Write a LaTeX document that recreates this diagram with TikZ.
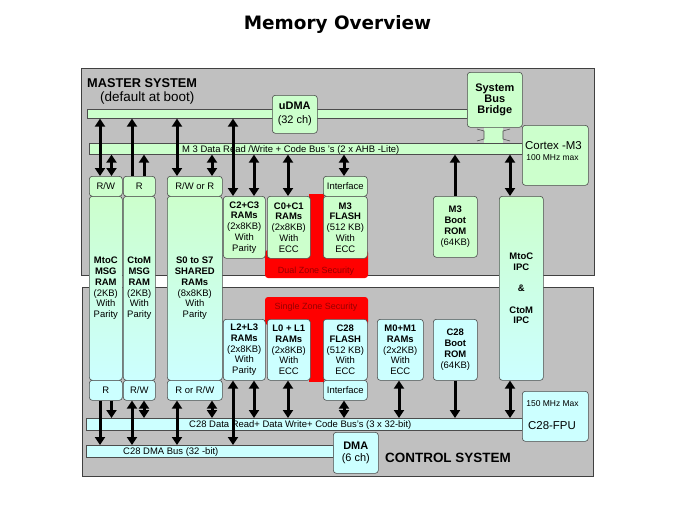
\documentclass[tikz,border=0pt]{standalone}
\usepackage{fontspec}
\setmainfont{Liberation Sans}
\newfontfamily\titlefont{DejaVu Sans}
\usepackage{tikz}
\usetikzlibrary{arrows.meta}
\definecolor{msgreen}{RGB}{204,255,204}
\definecolor{cscyan}{RGB}{204,255,255}
\definecolor{sysgray}{RGB}{192,192,192}
\definecolor{zonered}{RGB}{255,0,0}
\definecolor{zonetext}{RGB}{150,0,0}

\begin{document}
\begin{tikzpicture}[
  sysbox/.style={draw=black!75,line width=0.8bp,fill=sysgray,inner sep=0pt,anchor=north west},
  busbar/.style={draw=black!70,line width=0.6bp,inner sep=0pt,anchor=north west},
  blk/.style={draw=black!70,line width=0.6bp,rounded corners=3bp,inner sep=0pt,anchor=north west,align=center,font=\fontsize{9.5}{10.8}\selectfont},
  msys/.style={fill=msgreen},
  csys/.style={fill=cscyan},
  both/.style={top color=msgreen,bottom color=cscyan},
  tag/.style={inner sep=0pt,anchor=base},
  twoway/.style={line width=3bp,{Triangle[width=10bp,length=8bp]}-{Triangle[width=10bp,length=8bp]}},
  oneway/.style={line width=3bp,-{Triangle[width=10bp,length=8bp]}}
]
\useasboundingbox (0,0) rectangle (674bp,-506bp);
\node (title) at (337.5bp,-29bp)[tag,font=\titlefont\bfseries\fontsize{18.5}{20}\selectfont] {Memory Overview};

% the two systems
\node (master) at (81bp,-68bp)[sysbox,minimum width=513bp,minimum height=207bp] {};
\node (control) at (82bp,-287bp)[sysbox,minimum width=511bp,minimum height=189bp] {};

% security zones
\fill[zonered,rounded corners=3bp] (265bp,-250bp) rectangle (368bp,-278bp);
\fill[zonered] (309bp,-194bp) rectangle (324bp,-262bp);
\fill[zonered,rounded corners=3bp] (265bp,-297bp) rectangle (368bp,-325bp);
\fill[zonered] (309bp,-315bp) rectangle (324bp,-382bp);

% bridge to M3 bus
\fill[msgreen] (484bp,-127bp) rectangle (503bp,-143bp);
\draw[black!70,line width=0.6bp] (477bp,-129bp) -- (484bp,-131bp) -- (484bp,-139bp) -- (477bp,-141bp);
\draw[black!70,line width=0.6bp] (510bp,-129bp) -- (503bp,-131bp) -- (503bp,-139bp) -- (510bp,-141bp);

% buses
\node (udmabus) at (87bp,-109bp)[busbar,msys,minimum width=380bp,minimum height=9bp] {};
\node (m3bus) at (89bp,-143bp)[busbar,msys,minimum width=433bp,minimum height=11bp] {};
\node (c28bus) at (86bp,-418bp)[busbar,csys,minimum width=436bp,minimum height=12bp] {};
\node (dmabus) at (86bp,-445bp)[busbar,csys,minimum width=247bp,minimum height=12bp] {};

% master side
\node (udma) at (272bp,-95bp)[blk,msys,minimum width=45bp,minimum height=38bp,font=\fontsize{11}{14}\selectfont] {\textbf{uDMA}\\(32 ch)};
\node (bridge) at (467bp,-72bp)[blk,msys,minimum width=55bp,minimum height=55bp,font=\fontsize{11}{11.5}\selectfont\bfseries] {System\\Bus\\Bridge};
\node (cortex) at (522bp,-125bp)[blk,msys,minimum width=66bp,minimum height=60bp] {};
\node (rwm) at (89bp,-176bp)[blk,msys,minimum width=33bp,minimum height=20bp] {R/W};
\node (rm) at (123bp,-176bp)[blk,msys,minimum width=32bp,minimum height=20bp] {R};
\node (rwrm) at (167bp,-176bp)[blk,msys,minimum width=55bp,minimum height=20bp] {R/W or R};
\node (ifacem) at (323bp,-176bp)[blk,msys,minimum width=44bp,minimum height=20bp] {Interface};
\node (c2c3) at (223bp,-196bp)[blk,msys,minimum width=42bp,minimum height=62bp] {\textbf{C2+C3}\\\textbf{RAMs}\\(2x8KB)\\With\\Parity};
\node (c0c1) at (267bp,-196bp)[blk,msys,minimum width=43bp,minimum height=62bp] {\textbf{C0+C1}\\\textbf{RAMs}\\(2x8KB)\\With\\ECC};
\node (m3flash) at (323bp,-196bp)[blk,msys,minimum width=44bp,minimum height=62bp] {\textbf{M3}\\\textbf{FLASH}\\(512 KB)\\With\\ECC};
\node (m3rom) at (433bp,-196bp)[blk,msys,minimum width=44bp,minimum height=61bp] {\textbf{M3}\\\textbf{Boot}\\\textbf{ROM}\\(64KB)};

% shared by both sides
\node (mtocmsg) at (89bp,-196bp)[blk,both,minimum width=33bp,minimum height=184bp] {\textbf{MtoC}\\\textbf{MSG}\\\textbf{RAM}\\(2KB)\\With\\Parity};
\node (ctommsg) at (123bp,-196bp)[blk,both,minimum width=32bp,minimum height=184bp] {\textbf{CtoM}\\\textbf{MSG}\\\textbf{RAM}\\(2KB)\\With\\Parity};
\node (shared) at (167bp,-196bp)[blk,both,minimum width=55bp,minimum height=184bp] {\textbf{S0 to S7}\\\textbf{SHARED}\\\textbf{RAMs}\\(8x8KB)\\With\\Parity};
\node (ipc) at (499bp,-196bp)[blk,both,minimum width=44bp,minimum height=184bp,font=\fontsize{9.5}{10.8}\selectfont\bfseries] {MtoC\\IPC\\[10.8bp]\&\\[10.8bp]CtoM\\IPC};

% control side
\node (rc) at (89bp,-380bp)[blk,csys,minimum width=33bp,minimum height=20bp] {R};
\node (rwc) at (123bp,-380bp)[blk,csys,minimum width=32bp,minimum height=20bp] {R/W};
\node (rrwc) at (167bp,-380bp)[blk,csys,minimum width=55bp,minimum height=20bp] {R or R/W};
\node (l2l3) at (223bp,-319bp)[blk,csys,minimum width=42bp,minimum height=61bp] {\textbf{L2+L3}\\\textbf{RAMs}\\(2x8KB)\\With\\Parity};
\node (l0l1) at (267bp,-319bp)[blk,csys,minimum width=43bp,minimum height=61bp] {\textbf{L0 + L1}\\\textbf{RAMs}\\(2x8KB)\\With\\ECC};
\node (c28flash) at (323bp,-319bp)[blk,csys,minimum width=44bp,minimum height=61bp] {\textbf{C28}\\\textbf{FLASH}\\(512 KB)\\With\\ECC};
\node (ifacec) at (323bp,-380bp)[blk,csys,minimum width=44bp,minimum height=20bp] {Interface};
\node (m0m1) at (377bp,-319bp)[blk,csys,minimum width=46bp,minimum height=61bp] {\textbf{M0+M1}\\\textbf{RAMs}\\(2x2KB)\\With\\ECC};
\node (c28rom) at (433bp,-319bp)[blk,csys,minimum width=44bp,minimum height=61bp] {\textbf{C28}\\\textbf{Boot}\\\textbf{ROM}\\(64KB)};
\node (fpu) at (522bp,-391bp)[blk,csys,minimum width=66bp,minimum height=50bp] {};
\node (dma) at (333bp,-432bp)[blk,csys,minimum width=45bp,minimum height=41bp,font=\fontsize{11}{12.5}\selectfont] {\textbf{DMA}\\(6 ch)};

% texts
\node (mastername) at (87bp,-87.5bp)[tag,anchor=base west,font=\bfseries\fontsize{12.8}{14}\selectfont] {MASTER SYSTEM};
\node (masterboot) at (100bp,-101.5bp)[tag,anchor=base west,font=\fontsize{13.5}{15}\selectfont] {(default at boot)};
\node (controlname) at (385bp,-462bp)[tag,anchor=base west,font=\bfseries\fontsize{13.5}{15}\selectfont] {CONTROL SYSTEM};
\node (m3busname) at (182bp,-152bp)[tag,anchor=base west,font=\fontsize{9.5}{10}\selectfont] {M 3 Data Read /Write + Code Bus 's (2 x AHB -Lite)};
\node (c28busname) at (189bp,-427.5bp)[tag,anchor=base west,font=\fontsize{9.5}{10}\selectfont] {C28 Data Read+ Data Write+ Code Bus's (3 x 32-bit)};
\node (dmabusname) at (123bp,-454.3bp)[tag,anchor=base west,font=\fontsize{9.5}{10}\selectfont] {C28 DMA Bus (32 -bit)};
\node (dualname) at (316bp,-273bp)[tag,text=zonetext,font=\fontsize{9}{10}\selectfont] {Dual Zone Security};
\node (singlename) at (316bp,-309bp)[tag,text=zonetext,font=\fontsize{9}{10}\selectfont] {Single Zone Security};
\node (cortexname) at (553.5bp,-149bp)[tag,font=\fontsize{11.5}{12}\selectfont] {Cortex -M3};
\node (cortexclock) at (552.5bp,-160bp)[tag,font=\fontsize{8.5}{9}\selectfont] {100 MHz max};
\node (fpuclock) at (552.5bp,-406bp)[tag,font=\fontsize{8.5}{9}\selectfont] {150 MHz Max};
\node (fpuname) at (552bp,-429.3bp)[tag,font=\fontsize{11.5}{12}\selectfont] {C28-FPU};

% arrow columns
\coordinate (col1) at (100bp,0);
\coordinate (col2) at (111.5bp,0);
\coordinate (col3) at (132bp,0);
\coordinate (col4) at (144bp,0);
\coordinate (col5) at (177bp,0);
\coordinate (col6) at (212bp,0);
\coordinate (col7) at (233bp,0);
\coordinate (col8) at (254bp,0);
\coordinate (col9) at (288bp,0);
\coordinate (col10) at (344bp,0);
\coordinate (col11) at (399bp,0);
\coordinate (col12) at (455bp,0);
\coordinate (col13) at (510bp,0);

% master accesses
\draw[twoway] (col1 |- udmabus.south) -- (col1 |- rwm.north);
\draw[twoway] (col2 |- m3bus.south) -- (col2 |- rwm.north);
\draw[oneway] (col3 |- rm.north) -- (col3 |- udmabus.south);
\draw[oneway] (col4 |- rm.north) -- (col4 |- m3bus.south);
\draw[twoway] (col5 |- udmabus.south) -- (col5 |- rwrm.north);
\draw[twoway] (col6 |- m3bus.south) -- (col6 |- rwrm.north);
\draw[twoway] (col7 |- udmabus.south) -- (col7 |- c2c3.north);
\draw[twoway] (col8 |- m3bus.south) -- (col8 |- c2c3.north);
\draw[twoway] (col9 |- m3bus.south) -- (col9 |- c0c1.north);
\draw[twoway] (col10 |- m3bus.south) -- (col10 |- ifacem.north);
\draw[oneway] (col12 |- m3rom.north) -- (col12 |- m3bus.south);
\draw[twoway] (col13 |- m3bus.south) -- (col13 |- ipc.north);

% control accesses
\draw[oneway] (col1 |- rc.south) -- (col1 |- dmabus.north);
\draw[oneway] (col2 |- rc.south) -- (col2 |- c28bus.north);
\draw[twoway] (col3 |- rwc.south) -- (col3 |- dmabus.north);
\draw[twoway] (col4 |- rwc.south) -- (col4 |- c28bus.north);
\draw[twoway] (col5 |- rrwc.south) -- (col5 |- dmabus.north);
\draw[twoway] (col6 |- rrwc.south) -- (col6 |- c28bus.north);
\draw[twoway] (col7 |- l2l3.south) -- (col7 |- dmabus.north);
\draw[twoway] (col8 |- l2l3.south) -- (col8 |- c28bus.north);
\draw[twoway] (col9 |- l0l1.south) -- (col9 |- c28bus.north);
\draw[twoway] (col10 |- ifacec.south) -- (col10 |- c28bus.north);
\draw[twoway] (col11 |- m0m1.south) -- (col11 |- c28bus.north);
\draw[oneway] (col12 |- c28rom.south) -- (col12 |- c28bus.north);
\draw[twoway] (col13 |- ipc.south) -- (col13 |- c28bus.north);
\end{tikzpicture}
\end{document}
